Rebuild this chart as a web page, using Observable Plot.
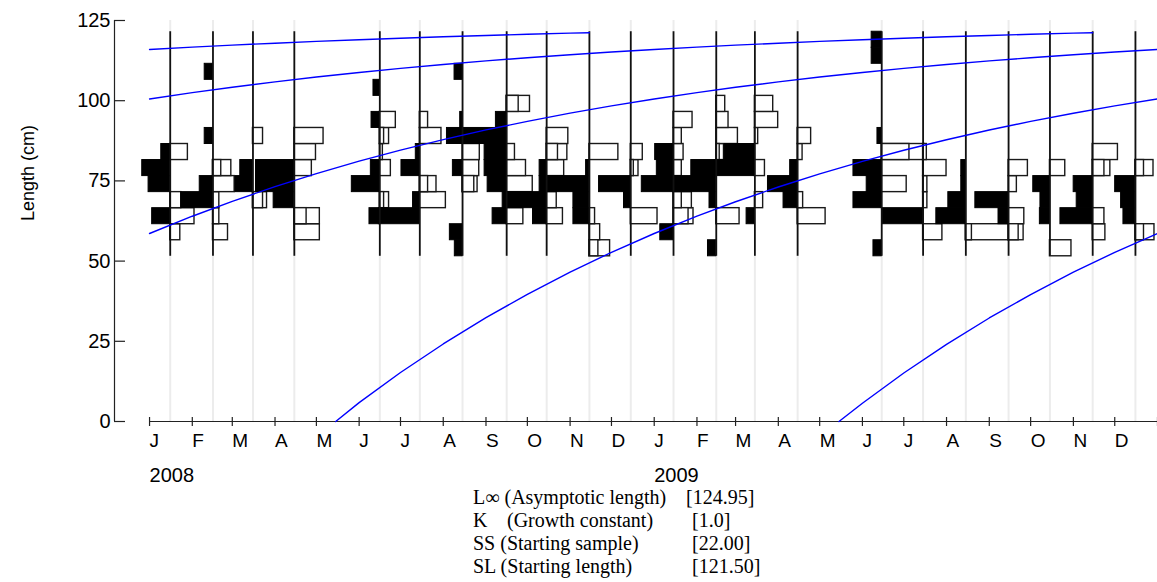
<!DOCTYPE html>
<html>
<head>
<meta charset="utf-8">
<script src="https://cdn.jsdelivr.net/npm/d3@7"></script>
<script src="https://cdn.jsdelivr.net/npm/@observablehq/plot@0.6"></script>
<style>
  body { margin: 0; background: #fff; }
  #wrap { position: relative; width: 1157px; height: 582px; overflow: hidden; background: #fff; }
  #params { position: absolute; left: 0; top: 0; }
</style>
</head>
<body>
<div id="wrap"><div id="chart"></div><svg id="params" width="1157" height="582"></svg></div>
<script>
// ---------------- data ----------------
const sampleDates = ["2008-01-16","2008-02-16","2008-03-16","2008-04-15","2008-06-16","2008-07-15",
  "2008-08-15","2008-09-16","2008-10-15","2008-11-15","2008-12-15","2009-01-15","2009-02-15",
  "2009-03-15","2009-04-15","2009-06-15","2009-07-15","2009-08-15","2009-09-15","2009-10-15",
  "2009-11-15","2009-12-16"];

// length-class mid points (cm), class width 5 cm
const binMids = [54, 59, 64, 69, 74, 79, 84, 89, 94, 99, 104, 109, 114, 119];
const binWidth = 5;

// positive restructured scores (black, drawn to the left), in days of plot span
const blackScores = [
  [0,0,13.1,0,15.7,20.3,6.5,0,0,0,0,0,0,0],
  [0,0,0,23,9.6,0,0,6,0,0,0,6,0,0],
  [0,0,0,0,12.8,9.2,0,0,0,0,0,0,0,0],
  [0,0,0,15,27.8,27.8,0,0,0,0,0,0,0,0],
  [0,0,7.5,0,20.3,6.5,0,0,6,0,4.6,0,0,0],
  [0,0,29.7,4.9,0,13.3,2.9,0,0,0,0,0,0,0],
  [5.6,9.2,0,0,0,7,0,11.3,1.7,0,0,5.8,0,0],
  [0,0,10.2,2.9,13.8,16,16,31.7,7.8,0,0,0,0,0],
  [0,0,9.9,30,5.1,5.1,0,0,0,0,0,0,0,0],
  [0,0,11.6,11.6,30.7,2.4,0,0,0,0,0,0,0,0],
  [0,0,0,4.9,23,0,0,0,0,0,0,0,0,0],
  [0,9.6,0,0,23,12.1,13.3,0,0,0,0,0,0,0],
  [6,0,0,4.9,31.4,18.1,0,0,0,0,0,0,0,0],
  [0,0,6,0,0,29,22,0,0,0,0,0,0,0],
  [0,0,0,10.2,21.5,5.4,0,0,0,0,0,0,0,0],
  [6,0,0,20.5,10.9,20.5,0,3.1,0,0,0,0,7.3,7.3],
  [0,0,29.5,0,0,0,0,0,0,0,0,0,0,0],
  [0,0,21.4,12.7,3.3,3.3,0,0,0,0,0,0,0,0],
  [0,0,7.3,24.1,0,0,0,0,0,0,0,0,0,0],
  [0,0,7.3,6.9,12.1,0,0,0,0,0,0,0,0,0],
  [0,0,23.4,11.6,13.8,0,0,0,0,0,0,0,0,0],
  [0,0,8.7,10.4,14.7,0,0,0,0,0,0,0,0,0]
];

// negative restructured scores (white, drawn to the right), in days of plot span
const whiteScores = [
  [0,7.3,17.6,8,0,0,12.8,0,0,0,0,0,0,0],
  [0,10.9,4.6,4.6,15.7,13.3,0,0,0,0,0,0,0,0],
  [0,0,0,10.2,0,0,0,7.3,0,0,0,0,0,0],
  [0,18.5,18.5,0,0,12.7,15.7,21.2,0,0,0,0,0,0],
  [0,0,0,6.7,0,8,2.2,6.7,11.6,0,0,0,0,0],
  [0,0,0,18.9,12.1,0,0,15.7,6,0,0,0,0,0],
  [0,0,0,0,10.9,12.1,12.5,0,0,0,0,0,0,0],
  [0,0,12.1,0,18.9,14,6,0,0,16.9,0,0,0,0],
  [0,0,11.8,7.3,0,12.7,15,15.7,0,0,0,0,0,0],
  [15,7.8,4.1,0,0,0,21,0,0,0,0,0,0,0],
  [0,0,19.4,0,0,5.6,8.7,0,0,0,0,0,0,0],
  [0,0,14.5,13.3,0,6,7.3,6,13.8,0,0,0,0,0],
  [0,0,16.9,0,0,0,5.6,15.7,8.9,6.5,0,0,0,0],
  [0,0,0,6,0,7.3,0,2.4,16.9,13.3,0,0,0,0],
  [0,0,20.3,4,0,0,3.6,9.8,0,0,0,0,0,0],
  [0,0,0,0,18.1,0,31.2,0,0,0,0,0,0,0],
  [0,14,0,3.1,3.1,17,2.7,0,0,0,0,0,0,0],
  [0,31.4,0,0,0,0,0,0,0,0,0,0,0,0],
  [0,10.9,11.4,0,6,14,0,0,0,0,0,0,0,0],
  [15.6,0,0,0,0,11.1,0,0,0,0,0,0,0,0],
  [0,9.2,8.5,0,0,12.8,18.3,0,0,0,0,0,0,0],
  [0,13.8,0,0,0,13.1,0,0,0,0,0,0,0,0]
];

// second (inner) white boxes: [sample index, class index, score]
const innerWhite = [[1,5,6],[2,3,7.3],[3,2,8.9],[4,3,3.1],[4,7,3.1],[5,4,6],[6,4,8.5],[7,9,8.7],
  [8,6,8.2],[9,0,6.5],[10,5,2.2],[11,2,10.9],[11,3,6],[12,6,2.5],[15,6,20.1],[17,1,4.4],
  [18,1,7.3],[20,5,8.5],[21,1,6.2],[21,5,6.2]];

// growth curves (length in cm read at month starts)
const monthStarts = ["2008-01-01","2008-02-01","2008-03-01","2008-04-01","2008-05-01","2008-06-01",
  "2008-07-01","2008-08-01","2008-09-01","2008-10-01","2008-11-01","2008-12-01","2009-01-01",
  "2009-02-01","2009-03-01","2009-04-01","2009-05-01","2009-06-01","2009-07-01","2009-08-01",
  "2009-09-01","2009-10-01","2009-11-01","2009-12-01","2010-01-01"];
const cohort1Dates = monthStarts.slice(0, 11).concat(["2008-11-15"]);
const cohort1Len = [115.97,116.70,117.31,117.93,118.49,119.01,119.48,119.93,120.34,120.70,121.05,121.20];
const cohort2Dates = monthStarts.slice(0, 23).concat(["2009-11-15"]);
const cohort2Len = [100.54,102.53,104.18,105.87,107.38,108.81,110.08,111.29,112.41,113.40,114.34,115.17,
  115.97,116.70,117.31,117.93,118.49,119.01,119.48,119.93,120.34,120.70,121.05,121.20];
const cohort3Dates = monthStarts.slice(0);
const cohort3Len = [58.60,63.99,68.63,73.21,77.28,81.15,84.60,87.88,90.89,93.57,96.11,98.38,
  100.54,102.53,104.18,105.87,107.38,108.81,110.08,111.29,112.41,113.40,114.34,115.17,115.97];
const cohort4Dates = ["2008-05-15"].concat(monthStarts.slice(5));
const cohort4Len = [0,5.89,15.27,24.17,32.36,39.64,46.57,52.74,58.60,64.00,68.50,73.10,77.19,81.08,
  84.54,87.83,90.86,93.54,96.10,98.38,100.54];
const cohort5Dates = ["2009-05-15"].concat(monthStarts.slice(17));
const cohort5Len = [0,5.70,15.11,24.05,32.27,39.58,46.54,52.72,58.60];

const monthLetters = ["J","F","M","A","M","J","J","A","S","O","N","D"];
const yearDates = ["2008-01-01","2009-01-01"];
const yearTexts = ["2008","2009"];
const yTicks = [0, 25, 50, 75, 100, 125];
const xDomain = ["2007-12-06T14:00Z", "2010-01-01"];

const paramLabels = ["L\u221E (Asymptotic length)", "K", "SS (Starting sample)", "SL (Starting length)"];
const paramLabels2 = ["", "(Growth constant)", "", ""];
const paramValues = ["[124.95]", "[1.0]", "[22.00]", "[121.50]"];

// ---------------- build ----------------
const DAY = 864e5;
const toDate = s => new Date(s);
const blackBars = [], whiteBars = [], innerBars = [];
sampleDates.forEach((s, i) => {
  const d = toDate(s);
  binMids.forEach((m, j) => {
    const lo = m - binWidth / 2, hi = m + binWidth / 2;
    if (blackScores[i][j] > 0) blackBars.push({d, lo, hi, v: blackScores[i][j]});
    if (whiteScores[i][j] > 0) whiteBars.push({d, lo, hi, v: whiteScores[i][j]});
  });
});
innerWhite.forEach(([i, j, v]) => innerBars.push({d: toDate(sampleDates[i]), lo: binMids[j] - binWidth / 2, hi: binMids[j] + binWidth / 2, v}));
const leftOf = b => new Date(+b.d - b.v * DAY);
const rightOf = b => new Date(+b.d + b.v * DAY);

const curves = [];
[[cohort1Dates, cohort1Len], [cohort2Dates, cohort2Len], [cohort3Dates, cohort3Len],
 [cohort4Dates, cohort4Len], [cohort5Dates, cohort5Len]].forEach(([ds, ls], c) => {
  ds.forEach((s, k) => curves.push({c, date: toDate(s), len: ls[k]}));
});

const binLow = binMids[0] - binWidth / 2;
const binHigh = binMids[binMids.length - 1] + binWidth / 2;
const monthDates = monthStarts.map(toDate);

const chart = Plot.plot({
  width: 1157,
  height: 490,
  marginTop: 20,
  marginBottom: 69,
  marginLeft: 114,
  marginRight: 0,
  x: {type: "utc", domain: xDomain.map(toDate)},
  y: {domain: [0, 125], label: null},
  style: {fontFamily: "'Liberation Sans', Arial, sans-serif", background: "white", color: "black"},
  marks: [
    Plot.ruleX(sampleDates.map(toDate), {y1: 0, y2: 125, stroke: "#ececec", strokeWidth: 2}),
    Plot.rect(whiteBars, {x1: "d", x2: rightOf, y1: "lo", y2: "hi", fill: "white", stroke: "#1a1a1a", strokeWidth: 1.4}),
    Plot.rect(innerBars, {x1: "d", x2: rightOf, y1: "lo", y2: "hi", fill: "white", stroke: "#1a1a1a", strokeWidth: 1.4}),
    Plot.rect(blackBars, {x1: leftOf, x2: "d", y1: "lo", y2: "hi", fill: "black", stroke: "black", strokeWidth: 1}),
    Plot.ruleX(sampleDates.map(toDate), {y1: binLow, y2: binHigh, stroke: "#111", strokeWidth: 1.8}),
    Plot.ruleX([toDate(xDomain[0])], {y1: 0, y2: 125, stroke: "#222", strokeWidth: 1.2}),
    Plot.ruleY([0], {x1: monthDates[0], x2: monthDates[monthDates.length - 1], stroke: "#222", strokeWidth: 1.2}),
    Plot.axisY(yTicks, {tickSize: 11, dx: 11, fill: "none", label: null, stroke: "#222", strokeWidth: 1.2}),
    Plot.axisY(yTicks, {tickSize: 0, tickPadding: 4, fontSize: 20, label: null}),
    Plot.axisX(monthDates, {tickSize: 9, dy: -4, fill: "none", label: null, stroke: "#222", strokeWidth: 1.2}),
    Plot.axisX(monthDates.slice(0, 24), {tickSize: 0, tickPadding: 12, fontSize: 19, textAnchor: "start",
      tickFormat: d => monthLetters[d.getUTCMonth()], label: null}),
    Plot.text(yearTexts, {x: (d, i) => toDate(yearDates[i]), text: d => d, frameAnchor: "bottom",
      lineAnchor: "bottom", textAnchor: "start", dy: 60, fontSize: 20}),
    Plot.text(["Length (cm)"], {frameAnchor: "left", rotate: -90, dx: -86, fontSize: 18}),
    Plot.line(curves, {x: "date", y: "len", z: "c", stroke: "#0000ff", strokeWidth: 1.4})
  ]
});
document.getElementById("chart").appendChild(chart);

// parameter caption below the chart
const ps = d3.select("#params").append("g")
  .attr("font-family", "'Liberation Serif', 'Times New Roman', serif")
  .attr("font-size", 20).attr("fill", "black");
const baselines = [504, 527, 550, 573];
paramLabels.forEach((t, i) => {
  ps.append("text").attr("x", 473).attr("y", baselines[i]).text(t);
  if (paramLabels2[i]) ps.append("text").attr("x", 507).attr("y", baselines[i]).text(paramLabels2[i]);
  ps.append("text").attr("x", i === 0 ? 686 : 692).attr("y", baselines[i]).text(paramValues[i]);
});
</script>
</body>
</html>
